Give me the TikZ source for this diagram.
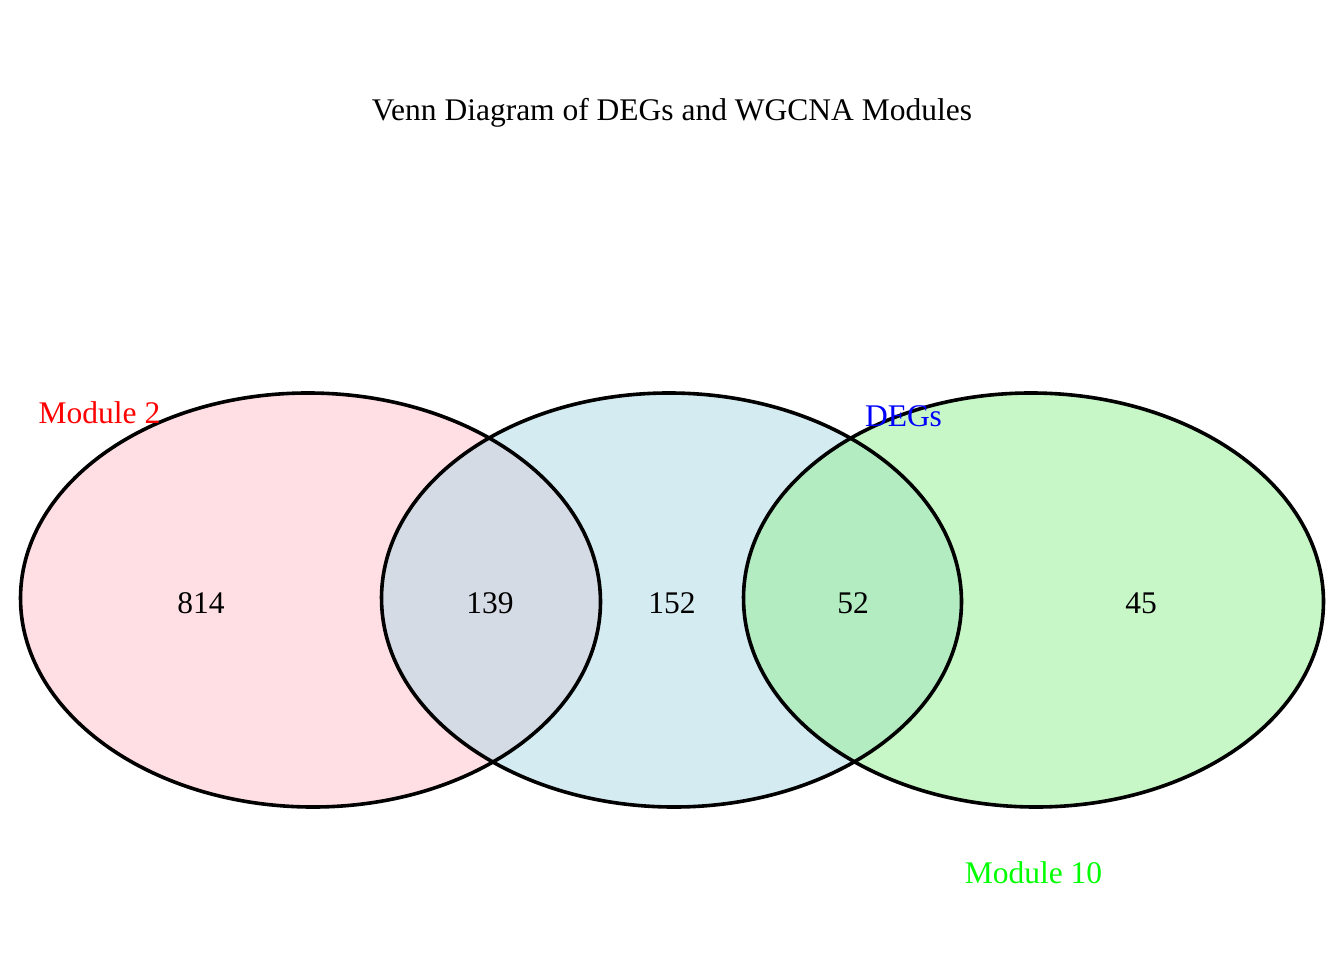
\documentclass[tikz,border=0pt]{standalone}
\usepackage{fontspec}
\setmainfont{Liberation Serif}
\usetikzlibrary{shapes.geometric}
\definecolor{vpink}{HTML}{FFC0CB}
\definecolor{vblue}{HTML}{ADD8E6}
\definecolor{vgreen}{HTML}{90EE90}
\definecolor{lblgreen}{HTML}{00FF00}
\begin{document}
\begin{tikzpicture}[x=1pt,y=-1pt,
  setfill/.style={ellipse,inner sep=0pt,minimum width=580pt,minimum height=414pt,rotate=-0.7,fill opacity=0.5},
  setline/.style={ellipse,inner sep=0pt,minimum width=580pt,minimum height=414pt,rotate=-0.7,draw=black,line width=3.6pt},
  lbl/.style={font=\fontsize{31.5}{36}\selectfont,anchor=base,inner sep=0pt}]
\useasboundingbox[fill=white] (0,0) rectangle (1344,960);
\node[setfill,fill=vpink] (fa) at (310.5,600) {};
\node[setfill,fill=vblue] (fb) at (671.5,600) {};
\node[setfill,fill=vgreen] (fc) at (1033.5,600) {};
\node[setline] (ea) at (310.5,600) {};
\node[setline] (eb) at (671.5,600) {};
\node[setline] (ec) at (1033.5,600) {};
\node[lbl] (title) at (672,121) {Venn Diagram of DEGs and WGCNA Modules};
\node[lbl] (n1) at (201,613) {814};
\node[lbl] (n2) at (490,613) {139};
\node[lbl] (n3) at (672,613) {152};
\node[lbl] (n4) at (853,613) {52};
\node[lbl] (n5) at (1141,613) {45};
\node[lbl,text=red] (la) at (99.5,423) {Module 2};
\node[lbl,text=blue] (lb) at (903.5,426) {DEGs};
\node[lbl,text=lblgreen] (lc) at (1033.5,883) {Module 10};
\end{tikzpicture}
\end{document}
